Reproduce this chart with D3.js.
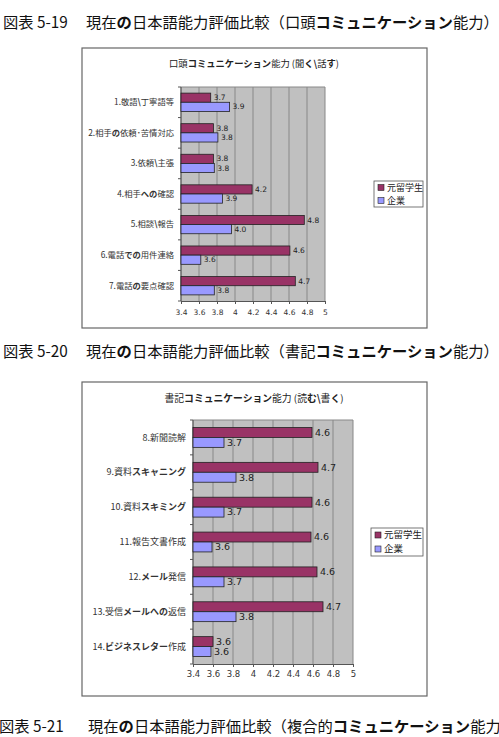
<!DOCTYPE html>
<html>
<head>
<meta charset="utf-8">
<script src="https://cdn.jsdelivr.net/npm/d3@7"></script>
<style>
  body { margin: 0; background: #fff; }
  svg { display: block; font-family: "Noto Sans CJK JP", "Noto Sans", sans-serif; }
</style>
</head>
<body>
<div id="chart"></div>
<script>
// ---- data ----
const seriesNames = ['元留学生', '企業'];
const ticks = [3.4, 3.6, 3.8, 4, 4.2, 4.4, 4.6, 4.8, 5];

const oralCategories = ['1.敬語\\丁寧語等', '2.相手の依頼･苦情対応', '3.依頼\\主張', '4.相手への確認', '5.相談\\報告', '6.電話での用件連絡', '7.電話の要点確認'];
const oralAlumni = [3.73, 3.76, 3.76, 4.19, 4.77, 4.61, 4.67];
const oralCompany = [3.94, 3.81, 3.77, 3.86, 3.96, 3.62, 3.77];

const writtenCategories = ['8.新聞読解', '9.資料スキャニング', '10.資料スキミング', '11.報告文書作成', '12.メール発信', '13.受信メールへの返信', '14.ビジネスレター作成'];
const writtenAlumni = [4.59, 4.65, 4.59, 4.58, 4.64, 4.70, 3.60];
const writtenCompany = [3.71, 3.83, 3.71, 3.59, 3.71, 3.83, 3.58];

const captionIds = ['図表 5-19', '図表 5-20', '図表 5-21'];
const captionTexts = [
    '現在の日本語能力評価比較（口頭コミュニケーション能力）',
    '現在の日本語能力評価比較（書記コミュニケーション能力）',
    '現在の日本語能力評価比較（複合的コミュニケーション能力）'
];

const colors = ['#993366', '#9999ff'];
const width = 499, height = 737;

const svg = d3.select('#chart').append('svg')
    .attr('width', width)
    .attr('height', height);

// kana (and the odd backslash glyph) come out bold in the source
function addRichText(sel, text) {
    const parts = text.match(/[\u3040-\u30ff\\]+|[^\u3040-\u30ff\\]+/g) || [];
    parts.forEach(p => {
        sel.append('tspan')
            .attr('font-weight', /[\u3040-\u30ff\\]/.test(p) ? 'bold' : null)
            .text(p);
    });
}

function caption(i, x, textX, y) {
    svg.append('text')
        .attr('x', x).attr('y', y)
        .attr('dy', '0.35em')
        .attr('font-size', 15.3)
        .attr('fill', '#111')
        .text(captionIds[i]);
    const t = svg.append('text')
        .attr('x', textX).attr('y', y)
        .attr('dy', '0.35em')
        .attr('font-size', 15.3)
        .attr('fill', '#111');
    addRichText(t, captionTexts[i]);
}

caption(0, 3, 86, 23);
caption(1, 3, 86, 352);
caption(2, -1, 88, 727);

function drawChart(cfg) {
    const g = svg.append('g');

    g.append('rect')
        .attr('x', cfg.frame[0]).attr('y', cfg.frame[1])
        .attr('width', cfg.frame[2]).attr('height', cfg.frame[3])
        .attr('fill', '#fff')
        .attr('stroke', '#666')
        .attr('stroke-width', 1.2);

    const title = g.append('text')
        .attr('x', cfg.titlePos[0]).attr('y', cfg.titlePos[1])
        .attr('dy', '0.35em')
        .attr('text-anchor', 'middle')
        .attr('font-size', cfg.titleSize)
        .attr('fill', '#222');
    addRichText(title, cfg.title);

    const x = d3.scaleLinear().domain([3.4, 5]).range([cfg.plot.left, cfg.plot.right]);
    const y = d3.scaleBand().domain(cfg.categories)
        .range([cfg.plot.top, cfg.plot.bottom])
        .paddingInner(cfg.padInner).paddingOuter(cfg.padInner / 2);
    const sub = d3.scaleBand().domain([0, 1]).range([0, y.bandwidth()]);

    // plot background
    g.append('rect')
        .attr('x', cfg.plot.left).attr('y', cfg.plot.top)
        .attr('width', cfg.plot.right - cfg.plot.left)
        .attr('height', cfg.plot.bottom - cfg.plot.top)
        .attr('fill', '#c0c0c0');

    // vertical gridlines
    g.append('g').selectAll('line')
        .data(ticks)
        .enter().append('line')
        .attr('x1', d => x(d)).attr('x2', d => x(d))
        .attr('y1', cfg.plot.top).attr('y2', cfg.plot.bottom)
        .attr('stroke', '#888')
        .attr('stroke-width', 1);

    g.append('line')
        .attr('x1', cfg.plot.left).attr('x2', cfg.plot.right)
        .attr('y1', cfg.plot.top).attr('y2', cfg.plot.top)
        .attr('stroke', '#888');

    // bottom axis
    const xAxis = g.append('g')
        .attr('transform', `translate(0,${cfg.plot.bottom})`)
        .call(d3.axisBottom(x).tickValues(ticks).tickSize(3).tickPadding(cfg.tickPad).tickFormat(d3.format('')));
    xAxis.select('.domain').attr('stroke', '#555');
    xAxis.selectAll('.tick line').attr('stroke', '#555');
    xAxis.selectAll('text')
        .attr('font-size', cfg.tickSize)
        .attr('fill', '#333')
        .attr('font-family', '"DejaVu Sans", sans-serif');

    // left axis line + separator ticks
    g.append('line')
        .attr('x1', cfg.plot.left).attr('x2', cfg.plot.left)
        .attr('y1', cfg.plot.top).attr('y2', cfg.plot.bottom)
        .attr('stroke', '#555');
    const step = y.step();
    g.append('g').selectAll('line')
        .data(d3.range(cfg.categories.length + 1))
        .enter().append('line')
        .attr('x1', cfg.plot.left - 3).attr('x2', cfg.plot.left)
        .attr('y1', i => cfg.plot.top + i * step)
        .attr('y2', i => cfg.plot.top + i * step)
        .attr('stroke', '#555');

    // category labels
    g.append('g').selectAll('text')
        .data(cfg.categories)
        .enter().append('text')
        .attr('x', cfg.labelX)
        .attr('y', d => y(d) + y.bandwidth() / 2)
        .attr('dy', '0.35em')
        .attr('text-anchor', 'end')
        .attr('font-size', cfg.labelSize)
        .attr('fill', '#333')
        .each(function (d) { addRichText(d3.select(this), d); });

    // bars
    const fmt = d3.format('.1f');
    [cfg.alumni, cfg.company].forEach((vals, si) => {
        const rows = cfg.categories.map((c, i) => ({ c, v: vals[i] }));
        g.append('g').selectAll('rect')
            .data(rows)
            .enter().append('rect')
            .attr('x', x(3.4))
            .attr('y', d => y(d.c) + sub(si))
            .attr('width', d => x(d.v) - x(3.4))
            .attr('height', sub.bandwidth())
            .attr('fill', colors[si])
            .attr('stroke', '#222')
            .attr('stroke-width', 0.8);
        g.append('g').selectAll('text')
            .data(rows)
            .enter().append('text')
            .attr('x', d => x(d.v) + 3)
            .attr('y', d => y(d.c) + sub(si) + sub.bandwidth() / 2)
            .attr('dy', '0.35em')
            .attr('font-size', cfg.valueSize)
            .attr('fill', '#222')
            .attr('font-family', '"DejaVu Sans", sans-serif')
            .text(d => fmt(d.v));
    });

    // legend
    const lg = g.append('g').attr('transform', `translate(${cfg.legend[0]},${cfg.legend[1]})`);
    lg.append('rect')
        .attr('width', cfg.legend[2]).attr('height', cfg.legend[3])
        .attr('fill', '#fff')
        .attr('stroke', '#555')
        .attr('stroke-width', 0.8);
    seriesNames.forEach((name, i) => {
        const rowY = cfg.legend[3] / 4 + i * cfg.legend[3] / 2;
        lg.append('rect')
            .attr('x', 4).attr('y', rowY - 3)
            .attr('width', 6).attr('height', 6)
            .attr('fill', colors[i])
            .attr('stroke', '#222')
            .attr('stroke-width', 0.6);
        lg.append('text')
            .attr('x', 13).attr('y', rowY)
            .attr('dy', '0.35em')
            .attr('font-size', cfg.legendSize)
            .attr('fill', '#222')
            .text(name);
    });
}

drawChart({
    frame: [82, 48, 345, 280],
    title: '口頭コミュニケーション能力 (聞く\\話す)',
    titlePos: [254, 64],
    titleSize: 9.3,
    plot: { left: 181, right: 325, top: 87, bottom: 301 },
    padInner: 0.4,
    categories: oralCategories,
    alumni: oralAlumni,
    company: oralCompany,
    labelX: 174,
    labelSize: 8.3,
    valueSize: 7.5,
    tickSize: 7.5,
    tickPad: 6,
    legend: [374, 181, 49, 26],
    legendSize: 9
});

drawChart({
    frame: [82, 382, 345, 314],
    title: '書記コミュニケーション能力 (読む\\書く)',
    titlePos: [254, 399],
    titleSize: 9.8,
    plot: { left: 193, right: 353, top: 420, bottom: 664 },
    padInner: 0.43,
    categories: writtenCategories,
    alumni: writtenAlumni,
    company: writtenCompany,
    labelX: 186,
    labelSize: 9,
    valueSize: 9.5,
    tickSize: 8.5,
    tickPad: 4,
    legend: [371, 528, 52, 28],
    legendSize: 9.5
});
</script>
</body>
</html>
